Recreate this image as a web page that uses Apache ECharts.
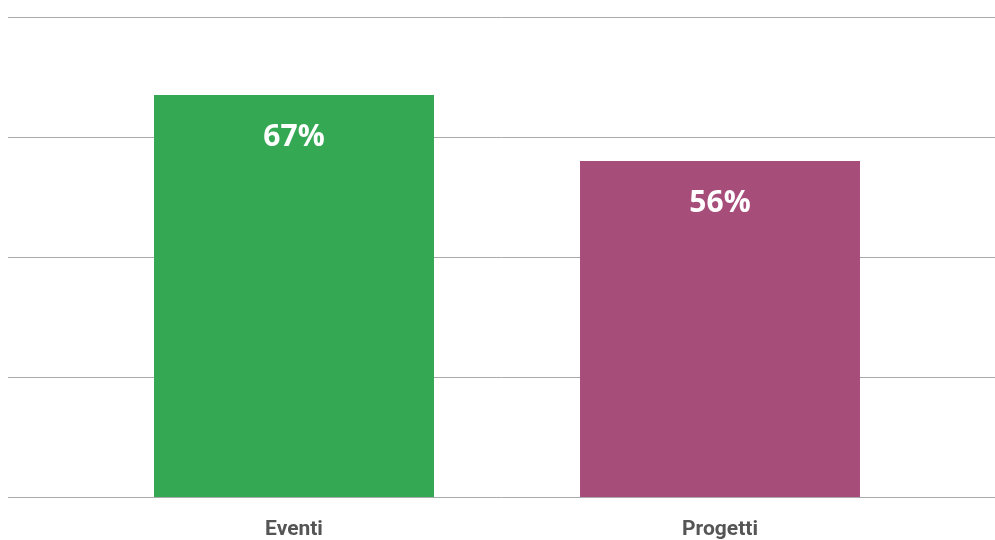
<!DOCTYPE html>
<html><head><meta charset="utf-8">
<script src="https://cdn.jsdelivr.net/npm/echarts@6/dist/echarts.min.js"></script>
<style>html,body{margin:0;padding:0;background:#fff}#c{width:995px;height:540px}</style>
</head><body><div id="c"></div>
<script>
const categories = ['Eventi', 'Progetti'];
const values = [67, 56];
const barColors = ['#34a853', '#a64d79'];
const yTicks = [0, 20, 40, 60, 80];

const chart = echarts.init(document.getElementById('c'), null, {renderer: 'canvas'});
chart.setOption({
  animation: false,
  grid: [
    {left: 8, right: 0, top: 17, bottom: 43},
    {left: 81, right: 62, top: 17, bottom: 43}
  ],
  xAxis: [
    {type: 'category', gridIndex: 0, data: [], show: false},
    {type: 'category', gridIndex: 1, data: categories,
     axisLine: {show: false}, axisTick: {show: false},
     axisLabel: {margin: 22, fontFamily: 'Roboto', fontWeight: 'bold', fontSize: 21, color: '#555555'}}
  ],
  yAxis: [
    {type: 'value', gridIndex: 0, min: yTicks[0], max: yTicks[yTicks.length-1], interval: 20,
     axisLabel: {show: false}, axisLine: {show: false}, axisTick: {show: false},
     splitLine: {lineStyle: {color: '#aaaaaa', width: 1}}},
    {type: 'value', gridIndex: 1, min: yTicks[0], max: yTicks[yTicks.length-1], interval: 20,
     show: false, splitLine: {show: false}}
  ],
  series: [{
    type: 'bar', xAxisIndex: 1, yAxisIndex: 1,
    barWidth: 280,
    data: values.map((v, i) => ({value: v, itemStyle: {color: barColors[i]}})),
    label: {show: true, position: 'insideTop', distance: 27, formatter: '{c}%',
      color: '#ffffff', fontFamily: 'Open Sans', fontWeight: 'bold', fontSize: 30}
  }]
});
</script></body></html>
